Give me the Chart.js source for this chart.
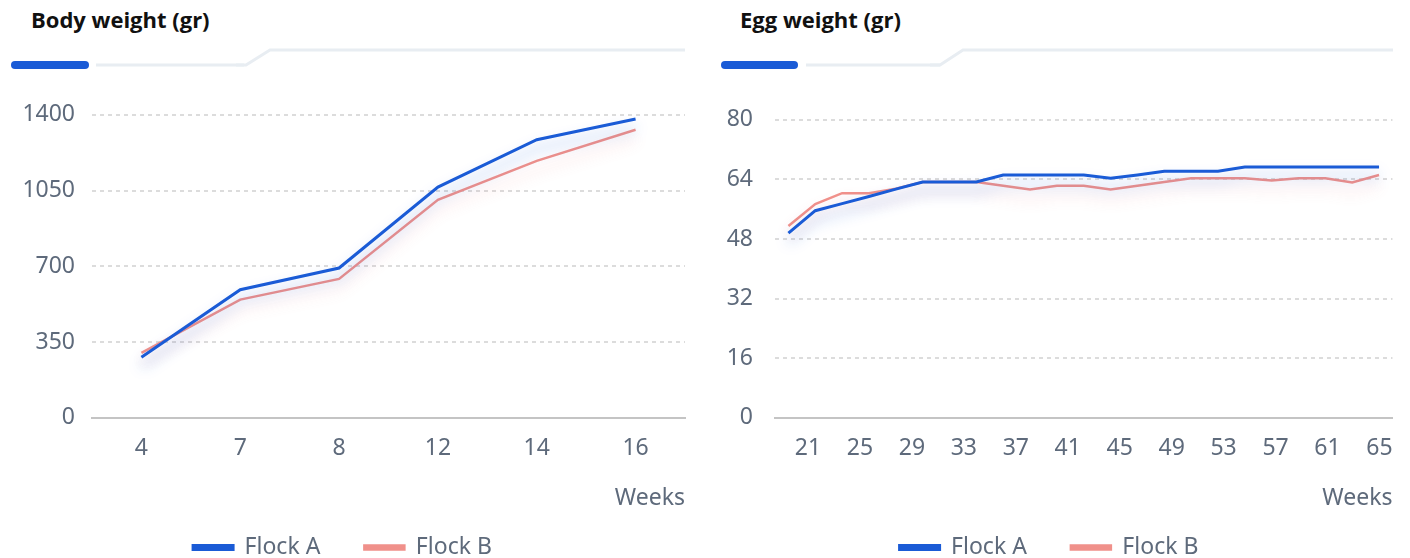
<!DOCTYPE html>
<html>
<head>
<meta charset="utf-8">
<script src="https://cdn.jsdelivr.net/npm/chart.js@4.4.1/dist/chart.umd.min.js"></script>
<style>
    body { margin: 0; width: 1410px; height: 558px; overflow: hidden; background: #fff; font-family: 'Noto Sans', sans-serif; }
    .title { position: absolute; top: 4px; font-family: 'Open Sans', sans-serif; font-weight: 700; font-size: 22px; color: #111; }
    .tabs { position: absolute; top: 0; left: 0; }
    .box { position: absolute; top: 84px; height: 474px; }
</style>
</head>
<body>
<div class="title" style="left:31px">Body weight (gr)</div>
<div class="title" style="left:740px">Egg weight (gr)</div>

<svg class="tabs" width="1410" height="80">
    <line x1="96" y1="65" x2="244" y2="65" stroke="#e8edf2" stroke-width="3"/>
    <polyline points="236,65 246,65 270,50 685,50" fill="none" stroke="#e8edf2" stroke-width="3"/>
    <line x1="15" y1="65" x2="85" y2="65" stroke="#1a5bd6" stroke-width="8" stroke-linecap="round"/>
    <line x1="806" y1="65" x2="940" y2="65" stroke="#e8edf2" stroke-width="3"/>
    <polyline points="930,65 940,65 963,50 1393,50" fill="none" stroke="#e8edf2" stroke-width="3"/>
    <line x1="725" y1="65" x2="794" y2="65" stroke="#1a5bd6" stroke-width="8" stroke-linecap="round"/>
</svg>

<div class="box" style="left:0;width:700px"><canvas id="bodyChart"></canvas></div>
<div class="box" style="left:705px;width:705px"><canvas id="eggChart"></canvas></div>

<script>
const BLUE = '#1a5bd6';
const PINK = '#f0908a';
const TICK = '#5e6a7b';
const FONT = { family: "'Noto Sans', sans-serif", size: 23 };

// Body weight (gr) per week
const bodyWeeks = ['4', '7', '8', '12', '14', '16'];
const bodyFlockA = [280, 592, 692, 1066, 1285, 1381];
const bodyFlockB = [300, 546, 642, 1007, 1187, 1331];
const bodyTicks = [0, 350, 700, 1050, 1400];

// Egg weight (gr) per week
const eggWeeks = ['21', '23', '25', '27', '29', '31', '33', '35', '37', '39', '41', '43',
    '45', '47', '49', '51', '53', '55', '57', '59', '61', '63', '65'];
const eggFlockA = [49.6, 55.6, 57.5, 59.4, 61.4, 63.3, 63.3, 63.3, 65.2, 65.2, 65.2, 65.2,
    64.3, 65.2, 66.2, 66.2, 66.2, 67.3, 67.3, 67.3, 67.3, 67.3, 67.3];
const eggFlockB = [51.5, 57.4, 60.3, 60.3, 61.5, 63.3, 63.3, 63.3, 62.3, 61.3, 62.3, 62.3,
    61.3, 62.3, 63.3, 64.3, 64.3, 64.3, 63.7, 64.3, 64.3, 63.2, 65.2];
const eggTicks = [0, 16, 32, 48, 64, 80];
// week labels shown on the egg chart (drawn on their own week scale)
const eggWeekTicks = [21, 25, 29, 33, 37, 41, 45, 49, 53, 57, 61, 65];
const eggWeekRange = [18.46, 66];

// soft glow under each line
const glowPlugin = {
    id: 'glow',
    beforeDatasetDraw(chart, args) {
        const ctx = chart.ctx;
        ctx.save();
        ctx.shadowColor = chart.data.datasets[args.index].glow;
        ctx.shadowBlur = 14;
        ctx.shadowOffsetY = 9;
    },
    afterDatasetDraw(chart) {
        chart.ctx.restore();
    }
};

function bottomAxis(extra) {
    return Object.assign({
        grid: { display: false, drawTicks: false },
        border: { display: true, color: '#c4c4c4', width: 2 },
        ticks: {
            padding: 17,
            autoSkip: false,
            maxRotation: 0,
            color: TICK,
            font: FONT
        },
        title: {
            display: true,
            text: 'Weeks',
            align: 'end',
            color: TICK,
            padding: { top: 5, bottom: -20 },
            font: FONT
        }
    }, extra);
}

function makeChart(id, labels, flockA, flockB, ticks, yWidth, yPad, rightPad, weekTicks, weekRange) {
    const ctx = document.getElementById(id).getContext('2d');
    const scales = {
        y: {
            min: ticks[0],
            max: ticks[ticks.length - 1],
            afterBuildTicks: scale => { scale.ticks = ticks.map(v => ({ value: v })); },
            afterFit: scale => { scale.width = yWidth; },
            border: { display: false, dash: [4, 4] },
            grid: {
                drawTicks: false,
                color: '#dcdcdc',
                lineWidth: 2
            },
            ticks: {
                padding: yPad,
                color: TICK,
                font: FONT,
                callback: value => String(value)
            }
        }
    };
    if (weekTicks) {
        // data sits on a hidden category axis, labels on a week scale
        scales.x = { offset: true, display: false };
        const wx = bottomAxis({
            type: 'linear',
            position: 'bottom',
            min: weekRange[0],
            max: weekRange[1],
            afterBuildTicks: scale => { scale.ticks = weekTicks.map(v => ({ value: v })); }
        });
        wx.ticks.callback = value => String(value);
        scales.weeks = wx;
    } else {
        scales.x = bottomAxis({ offset: true });
    }

    return new Chart(ctx, {
        type: 'line',
        data: {
            labels: labels,
            datasets: [{
                label: 'Flock A',
                data: flockA,
                borderColor: BLUE,
                backgroundColor: BLUE,
                borderWidth: 3,
                pointRadius: 0,
                tension: 0,
                glow: 'rgba(26, 91, 214, 0.4)'
            }, {
                label: 'Flock B',
                data: flockB,
                borderColor: PINK,
                backgroundColor: PINK,
                borderWidth: 2.5,
                pointRadius: 0,
                tension: 0,
                glow: 'rgba(240, 120, 120, 0.3)'
            }]
        },
        plugins: [glowPlugin],
        options: {
            responsive: true,
            maintainAspectRatio: false,
            animation: false,
            layout: { padding: { top: 17, right: rightPad, left: 0, bottom: -11 } },
            plugins: {
                legend: {
                    position: 'bottom',
                    labels: {
                        boxWidth: 40,
                        boxHeight: 4,
                        padding: 44,
                        color: TICK,
                        font: FONT
                    }
                },
                tooltip: { enabled: false }
            },
            scales: scales
        }
    });
}

document.addEventListener('DOMContentLoaded', function () {
    makeChart('bodyChart', bodyWeeks, bodyFlockA, bodyFlockB, bodyTicks, 92, 17, 15);
    makeChart('eggChart', eggWeeks, eggFlockA, eggFlockB, eggTicks, 70, 22, 17, eggWeekTicks, eggWeekRange);
});
</script>
</body>
</html>
